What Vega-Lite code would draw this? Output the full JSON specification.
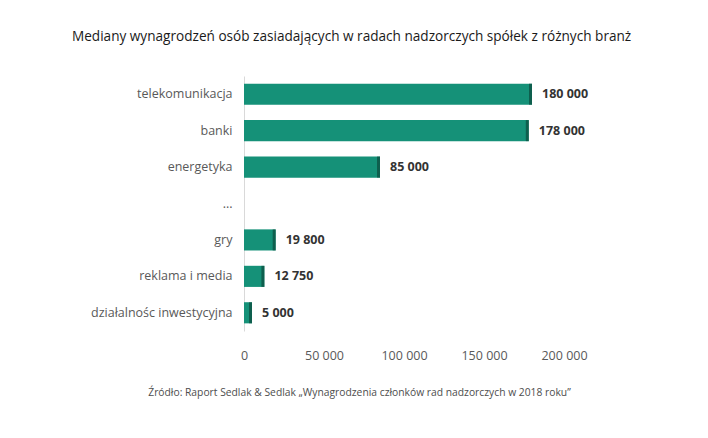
{
  "$schema": "https://vega.github.io/schema/vega-lite/v6.json",
  "description": "Mediany wynagrodzeń osób zasiadających w radach nadzorczych spółek z różnych branż",
  "autosize": "none",
  "width": 320,
  "height": 255,
  "padding": {"left": 244, "top": 76, "right": 144, "bottom": 107},
  "background": "white",
  "title": {
    "text": "Mediany wynagrodzeń osób zasiadających w radach nadzorczych spółek z różnych branż",
    "anchor": "start",
    "frame": "group",
    "dx": -172,
    "offset": 32,
    "fontSize": 13.6,
    "fontWeight": "normal",
    "color": "#1a1a1a",
    "font": "Open Sans"
  },
  "data": {
    "values": [
      {"branza": "telekomunikacja", "wartosc": 180000},
      {"branza": "banki", "wartosc": 178000},
      {"branza": "energetyka", "wartosc": 85000},
      {"branza": "...", "wartosc": null},
      {"branza": "gry", "wartosc": 19800},
      {"branza": "reklama i media", "wartosc": 12750},
      {"branza": "działalnośc inwestycyjna", "wartosc": 5000}
    ]
  },
  "encoding": {
    "y": {
      "field": "branza",
      "type": "nominal",
      "sort": null,
      "scale": {
        "domain": ["telekomunikacja", "banki", "energetyka", "...", "gry", "reklama i media", "działalnośc inwestycyjna"],
        "paddingInner": 0.42,
        "paddingOuter": 0.21
      },
      "axis": {
        "title": null,
        "ticks": false,
        "domainColor": "#d9d9d9",
        "labelPadding": 12,
        "labelFontSize": 12.5,
        "labelColor": "#595959",
        "labelFont": "Open Sans"
      }
    }
  },
  "layer": [
    {
      "mark": {"type": "bar", "color": "#159178"},
      "encoding": {
        "x": {
          "field": "wartosc",
          "type": "quantitative",
          "scale": {"domain": [0, 200000], "nice": false},
          "axis": {
            "values": [0, 50000, 100000, 150000, 200000],
            "grid": false,
            "domain": false,
            "ticks": false,
            "labelFlush": false,
            "labelOverlap": false,
            "labelPadding": 18,
            "labelFontSize": 12.5,
            "labelColor": "#595959",
            "labelFont": "Open Sans",
            "format": ",d",
            "title": "Źródło: Raport Sedlak & Sedlak „Wynagrodzenia członków rad nadzorczych w 2018 roku”",
            "titleX": 115,
            "titleY": 61,
            "titleAlign": "center",
            "titleBaseline": "middle",
            "titleFontSize": 10.3,
            "titleFontWeight": "normal",
            "titleColor": "#4d4d4d",
            "titleFont": "Open Sans"
          }
        }
      }
    },
    {
      "mark": {"type": "tick", "color": "#0b4a3c", "thickness": 3, "size": 21, "xOffset": -1.5},
      "encoding": {
        "x": {"field": "wartosc", "type": "quantitative"}
      }
    },
    {
      "mark": {
        "type": "text",
        "align": "left",
        "baseline": "middle",
        "dx": 10,
        "fontSize": 12.5,
        "fontWeight": "bold",
        "color": "#333333",
        "font": "Open Sans"
      },
      "encoding": {
        "x": {"field": "wartosc", "type": "quantitative"},
        "text": {"field": "wartosc", "type": "quantitative", "format": ",d"}
      }
    }
  ],
  "config": {
    "view": {"stroke": null},
    "locale": {
      "number": {"decimal": ",", "thousands": " ", "grouping": [3], "currency": ["", " zł"]}
    }
  }
}
